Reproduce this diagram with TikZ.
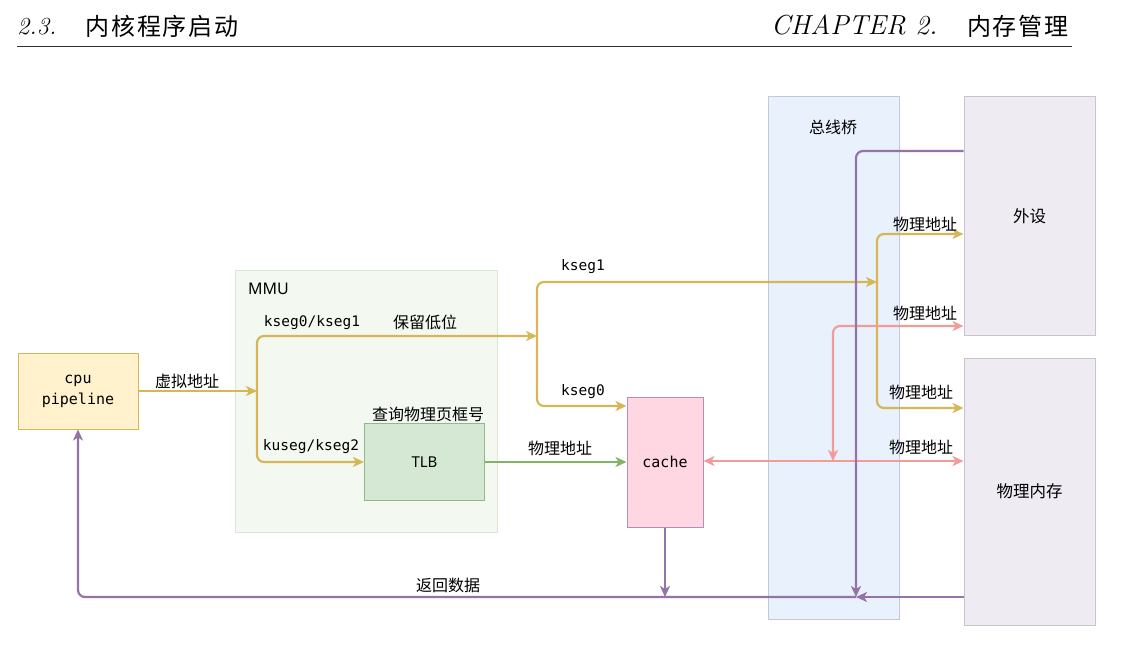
\documentclass[tikz,border=0pt]{standalone}
\usepackage{fontspec}
\usetikzlibrary{arrows.meta}
\newfontfamily\cjk{Noto Sans CJK SC}
\newfontfamily\cjkhead[LetterSpace=8]{Noto Sans CJK SC}
\newfontfamily\monof{DejaVu Sans Mono}
\newfontfamily\sansf{Noto Sans}
\definecolor{cyel}{HTML}{D6B656}
\definecolor{cgrn}{HTML}{82B366}
\definecolor{cpink}{HTML}{F19C99}
\definecolor{cpur}{HTML}{9673A6}
\definecolor{cpufill}{HTML}{FFF2CC}
\definecolor{mmufill}{HTML}{F3F8F1}
\definecolor{mmudraw}{HTML}{DCE6D7}
\definecolor{tlbfill}{HTML}{D5E8D4}
\definecolor{tlbdraw}{HTML}{93B889}
\definecolor{cachefill}{HTML}{FFD7E3}
\definecolor{cachedraw}{HTML}{B98DB9}
\definecolor{busfill}{HTML}{E9F1FC}
\definecolor{busdraw}{HTML}{BFCBDD}
\definecolor{devfill}{HTML}{EFEBF3}
\definecolor{devdraw}{HTML}{C8C3CC}
\tikzset{
  box/.style={draw, line width=1pt, inner sep=0pt},
  conn/.style={line width=2.2pt, rounded corners=7pt,
    -{Stealth[length=11pt,width=10pt,inset=3pt]}},
  biconn/.style={line width=2.2pt, rounded corners=7pt,
    {Stealth[length=11pt,width=10pt,inset=3pt]}-{Stealth[length=11pt,width=10pt,inset=3pt]}},
  cjklbl/.style={font=\cjk\fontsize{16}{19}\selectfont, inner sep=0pt},
  monolbl/.style={font=\monof\fontsize{14.5}{18}\selectfont, inner sep=0pt},
}
\begin{document}
\begin{tikzpicture}[x=1pt,y=-1pt]
\useasboundingbox (0,0) rectangle (1130,652);
% header
\node[anchor=base west, inner sep=0pt, font=\fontsize{24.5}{30}\selectfont\itshape] (hl) at (17,35) {2.3.};
\node[anchor=base west, inner sep=0pt, font=\cjkhead\fontsize{24}{30}\selectfont] (hlc) at (85,36) {内核程序启动};
\node[anchor=base west, inner sep=0pt, font=\fontsize{27.5}{30}\selectfont\itshape] (hr) at (771,35) {CHAPTER 2.};
\node[anchor=base east, inner sep=0pt, font=\cjkhead\fontsize{24}{30}\selectfont] (hrc) at (1069,36) {内存管理};
\coordinate (rl) at (17,46.5);
\coordinate (rr) at (1072,46.5);
\draw[line width=1pt, black!80] (rl) -- (rr);

% boxes
\node[box, fill=mmufill, draw=mmudraw, minimum width=262pt, minimum height=261pt] (mmu) at (366,401.5) {};
\node[anchor=west, inner sep=0pt, font=\sansf\fontsize{16}{20}\selectfont] (mmul) at (248,288.5) {MMU};
\node[box, fill=busfill, draw=busdraw, minimum width=131pt, minimum height=522pt] (bus) at (833.5,358) {};
\node[cjklbl] (busl) at (833,127) {总线桥};
\node[box, fill=cpufill, draw=cyel, minimum width=120pt, minimum height=76pt,
  font=\monof\fontsize{15}{21}\selectfont, align=center] (cpu) at (78,391) {cpu\\pipeline};
\node[box, fill=tlbfill, draw=tlbdraw, minimum width=120pt, minimum height=77pt,
  font=\sansf\fontsize{15}{18}\selectfont] (tlb) at (424.5,462) {TLB};
\node[cjklbl, anchor=south] (tlbl) at (428,422) {查询物理页框号};
\node[box, fill=cachefill, draw=cachedraw, minimum width=76pt, minimum height=130pt,
  font=\monof\fontsize{15}{18}\selectfont] (cache) at (665,462) {cache};
\node[box, fill=devfill, draw=devdraw, minimum width=131pt, minimum height=239pt,
  font=\cjk\fontsize{16.5}{18}\selectfont] (dev) at (1029.5,216.5) {外设};
\node[box, fill=devfill, draw=devdraw, minimum width=131pt, minimum height=267pt,
  font=\cjk\fontsize{16.5}{18}\selectfont] (mem) at (1029.5,491.5) {物理内存};

% junction coordinates
\coordinate (j1) at (257,391);
\coordinate (j2) at (537,336);
\coordinate (j3) at (877,282);
\coordinate (pj) at (833,461);
\coordinate (q1) at (856,597);

% yellow
\draw[conn, cyel] (cpu.east |- j1) -- (j1);
\draw[conn, cyel] (j1) |- (j2);
\draw[conn, cyel] (j1) |- (tlb.west);
\draw[conn, cyel] (j2) |- (j3);
\draw[conn, cyel] (j2) |- (cache.west |- 0,406);
\draw[conn, cyel] (j3) |- (dev.west |- 0,234);
\draw[conn, cyel] (j3) |- (mem.west |- 0,408);
% green
\draw[conn, cgrn] (tlb.east) -- (cache.west);
% pink
\draw[biconn, cpink] (cache.east |- pj) -- (mem.west |- pj);
\draw[biconn, cpink] (pj) |- (dev.west |- 0,326);
% purple
\draw[conn, cpur] (dev.west |- 0,151) -| (q1);
\draw[conn, cpur] (mem.west |- q1) -- (q1);
\draw[conn, cpur] (q1) -| (cpu.south);
\draw[conn, cpur] (cache.south) -- (cache.south |- q1);

% labels
\node[cjklbl] (l1) at (187,381) {虚拟地址};
\node[monolbl] (l2) at (312,323) {kseg0/kseg1};
\node[cjklbl] (l3) at (425,322) {保留低位};
\node[monolbl] (l4) at (311,447) {kuseg/kseg2};
\node[monolbl] (l5) at (583,267) {kseg1};
\node[monolbl] (l6) at (583,392) {kseg0};
\node[cjklbl] (l7) at (560,448) {物理地址};
\node[cjklbl] (l8) at (925,224) {物理地址};
\node[cjklbl] (l9) at (925,313) {物理地址};
\node[cjklbl] (l10) at (921,392) {物理地址};
\node[cjklbl] (l11) at (921,447) {物理地址};
\node[cjklbl] (l12) at (448,585) {返回数据};
\end{tikzpicture}
\end{document}
